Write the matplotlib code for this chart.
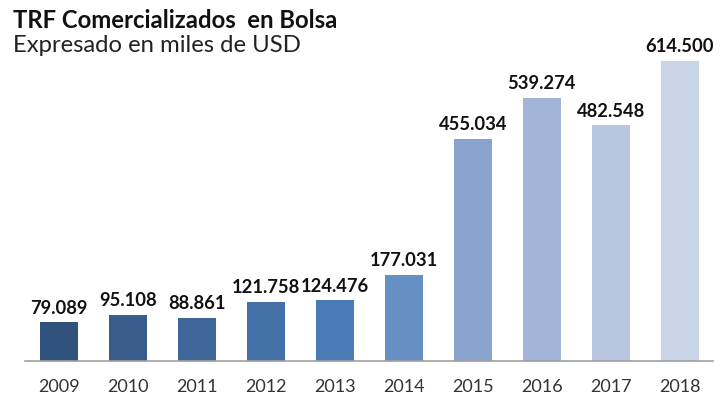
import matplotlib
matplotlib.use("Agg")
import matplotlib.pyplot as plt

years = ["2009", "2010", "2011", "2012", "2013", "2014", "2015", "2016", "2017", "2018"]
values = [79.089, 95.108, 88.861, 121.758, 124.476, 177.031, 455.034, 539.274, 482.548, 614.500]
labels = ["79.089", "95.108", "88.861", "121.758", "124.476", "177.031", "455.034", "539.274", "482.548", "614.500"]
colors = ["#30527D", "#395C8C", "#3E6699", "#4470A8", "#4A7BB6", "#6690C4", "#88A3CD", "#A2B5D8", "#B8C6E0", "#CBD5E8"]

plt.rcParams['font.family'] = ['Lato', 'DejaVu Sans']

fig = plt.figure(figsize=(7.23, 4.01), dpi=100)
ax = fig.add_axes([25/723, 40/401, 688/723, 321/401])
x = list(range(len(years)))
ax.bar(x, values, width=0.55, color=colors)
ax.set_xlim(-0.49, 9.48)
ax.set_ylim(0, 657.5)
for i, (v, l) in enumerate(zip(values, labels)):
    ax.annotate(l, (i, v), xytext=(0, 4), textcoords="offset points",
                ha="center", va="bottom", fontsize=13.2, fontweight="bold", color="#111111")
ax.set_xticks(x)
ax.set_xticklabels(years, fontsize=13, color="#333333")
ax.tick_params(axis="x", length=0, pad=13)
ax.set_yticks([])
for s in ["top", "right", "left"]:
    ax.spines[s].set_visible(False)
ax.spines["bottom"].set_color("#A0A0A0")
ax.spines["bottom"].set_linewidth(1.2)

fig.text(13/723, 1 - 20/401, "TRF Comercializados  en Bolsa", fontsize=17.2, fontweight="bold",
         va="center", ha="left", color="#111111")
fig.text(13/723, 1 - 46/401, "Expresado en miles de USD", fontsize=17.2, va="center", ha="left",
         color="#222222")

fig.savefig("out.png", dpi=100)
